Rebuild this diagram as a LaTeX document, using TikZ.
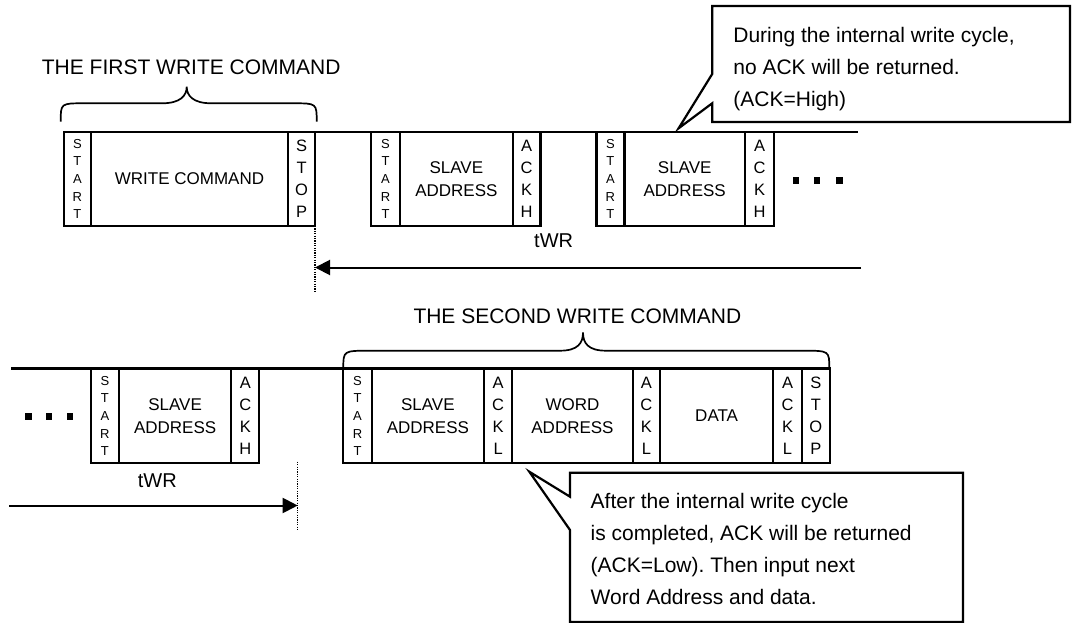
\documentclass[tikz,border=0pt]{standalone}
\usepackage{fontspec}
\setmainfont{Liberation Sans}
\usetikzlibrary{arrows.meta}
\newcommand\seg[7]{\node[#1, minimum width={#4-#3}, minimum height={#6-#5}] (#2) at ({(#3+#4)/2},{(#5+#6)/2}) {#7};}
\frenchspacing
\begin{document}
\begin{tikzpicture}[x=1pt,y=-1pt,
  box/.style={draw, line width=2.2pt, inner sep=0pt, outer sep=0pt, align=center, font=\fontsize{17}{23.3}\selectfont},
  vsm/.style={box, font=\fontsize{13}{17.7}\selectfont},
  vbig/.style={box, font=\fontsize{16.5}{22}\selectfont},
  bigtext/.style={inner sep=0pt, font=\fontsize{21}{32}\selectfont, anchor=base west},
  twrtext/.style={inner sep=0pt, font=\fontsize{20}{24}\selectfont, anchor=base west},
  timeline/.style={line width=2.2pt},
  dotsq/.style={rectangle, fill=black, minimum size=6.5pt, inner sep=0pt},
  bracestyle/.style={line width=1.7pt},
  calloutstyle/.style={line width=2.2pt, line join=miter},
  twrarrow/.style={line width=2pt, -{Triangle[length=15pt,width=15pt]}},
  guide/.style={line width=1.2pt, dash pattern=on 1.2pt off 1.2pt}
]
\useasboundingbox (0,0) rectangle (1072,623);

% ---------- row 1 ----------
\coordinate (L1a) at (64,132);
\coordinate (L1b) at (857.7,132);
\draw[timeline] (L1a) -- (L1b);

\seg{vsm}{s1}{64}{90.7}{132}{226}{S\\T\\A\\R\\T}
\seg{box}{w1}{90.7}{288.3}{132}{226}{WRITE COMMAND}
\seg{vbig}{p1}{288.3}{315}{132}{226}{S\\T\\O\\P}
\seg{vsm}{s2}{371}{400}{132}{226}{S\\T\\A\\R\\T}
\seg{box}{a2}{400}{512.7}{132}{226}{SLAVE\\ADDRESS}
\seg{vbig}{k2}{512.7}{540.5}{132}{226}{A\\C\\K\\H}
\seg{vsm}{s3}{596.4}{624.4}{132}{226}{S\\T\\A\\R\\T}
\seg{box}{a3}{624.4}{745}{132}{226}{SLAVE\\ADDRESS}
\seg{vbig}{k3}{745}{774}{132}{226}{A\\C\\K\\H}

\node[dotsq] (d1a) at (796,180.3) {};
\node[dotsq] (d1b) at (817,180.3) {};
\node[dotsq] (d1c) at (839.5,180.3) {};

\node[bigtext] (t1) at (41.7,74.3) {THE FIRST WRITE COMMAND};
\draw[bracestyle] (60.7,121.7) .. controls (60.7,103.3) .. (84,103.3) -- (162,103.3)
  .. controls (180,103.3) and (186.7,96) .. (186.7,86.7)
  .. controls (186.7,96) and (193.4,103.3) .. (211.4,103.3) -- (293.4,103.3)
  .. controls (316.7,103.3) .. (316.7,121.7);

\coordinate (g1a) at (315,226);
\coordinate (g1b) at (315,291.7);
\draw[guide] (g1a) -- (g1b);
\coordinate (r1s) at (861,267.5);
\coordinate (r1e) at (315,267.5);
\draw[twrarrow] (r1s) -- (r1e);
\node[twrtext] (tw1) at (534,247.7) {tWR};

% callout 1
\draw[calloutstyle] (712.2,74) -- (712.2,6) -- (1070,6) -- (1070,122) -- (712.2,122) -- (712.2,103.3) -- (678.6,128.3) -- cycle;
\node[bigtext] (c1a) at (733.2,42.3) {During the internal write cycle,};
\node[bigtext] (c1b) at (733.2,74.3) {no ACK will be returned.};
\node[bigtext] (c1c) at (733.2,106.3) {(ACK=High)};

% ---------- row 2 ----------
\coordinate (L2a) at (11,368.5);
\coordinate (L2b) at (830,368.5);
\draw[timeline] (L2a) -- (L2b);

\node[dotsq] (d2a) at (28.3,416.7) {};
\node[dotsq] (d2b) at (49.2,416.7) {};
\node[dotsq] (d2c) at (70,416.7) {};

\seg{vsm}{s5}{90.7}{119}{368.5}{463.3}{S\\T\\A\\R\\T}
\seg{box}{a5}{119}{231.3}{368.5}{463.3}{SLAVE\\ADDRESS}
\seg{vbig}{k5}{231.3}{259.3}{368.5}{463.3}{A\\C\\K\\H}
\seg{vsm}{s6}{343.3}{371.7}{368.5}{463.3}{S\\T\\A\\R\\T}
\seg{box}{a6}{371.7}{484}{368.5}{463.3}{SLAVE\\ADDRESS}
\seg{vbig}{k6}{484}{512.3}{368.5}{463.3}{A\\C\\K\\L}
\seg{box}{w6}{512.3}{632.7}{368.5}{463.3}{WORD\\ADDRESS}
\seg{vbig}{k7}{632.7}{660}{368.5}{463.3}{A\\C\\K\\L}
\seg{box}{d6}{660}{773.3}{368.5}{463.3}{DATA}
\seg{vbig}{k8}{773.3}{801.7}{368.5}{463.3}{A\\C\\K\\L}
\seg{vbig}{p6}{801.7}{830}{368.5}{463.3}{S\\T\\O\\P}

\node[bigtext] (t2) at (413.3,323.3) {THE SECOND WRITE COMMAND};
\draw[bracestyle] (343.3,368.3) .. controls (343.3,350.7) .. (370,350.7) -- (560,350.7)
  .. controls (578,350.7) and (583,343) .. (583,332.5)
  .. controls (583,343) and (588,350.7) .. (606,350.7) -- (803,350.7)
  .. controls (829.3,350.7) .. (829.3,368.3);

\coordinate (g2a) at (297.7,461.7);
\coordinate (g2b) at (297.7,530);
\draw[guide] (g2a) -- (g2b);
\coordinate (r2s) at (9.3,505.5);
\coordinate (r2e) at (297.7,505.5);
\draw[twrarrow] (r2s) -- (r2e);
\node[twrtext] (tw2) at (137.7,487.7) {tWR};

% callout 2
\draw[calloutstyle] (570,496.7) -- (570,472.7) -- (963,472.7) -- (963,622) -- (570,622) -- (570,530) -- (529.3,471.7) -- cycle;
\node[bigtext] (c2a) at (590.5,508.3) {After the internal write cycle};
\node[bigtext] (c2b) at (590.5,540.5) {is completed, ACK will be returned};
\node[bigtext] (c2c) at (590.5,572.7) {(ACK=Low). Then input next};
\node[bigtext] (c2d) at (590.5,604.7) {Word Address and data.};
\end{tikzpicture}
\end{document}
